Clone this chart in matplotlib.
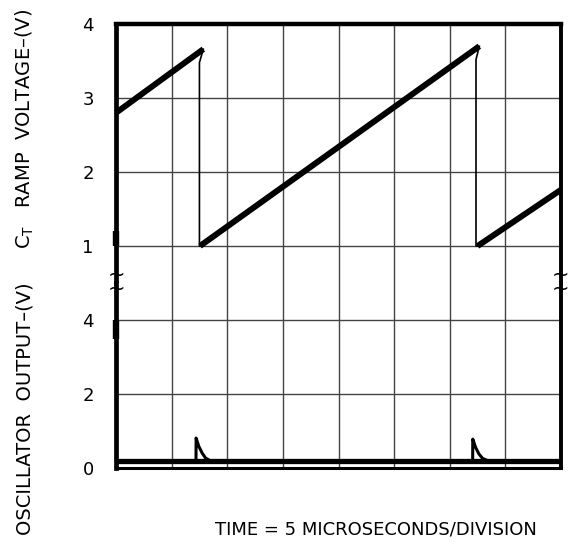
import matplotlib
matplotlib.use("Agg")
import matplotlib.pyplot as plt
import numpy as np

# ---- data (time in microseconds, 5 us / division) ----
x_ticks = [0, 5, 10, 15, 20, 25, 30, 35, 40]

# C_T ramp voltage: thick rising ramps
ramp1_t = [0.0, 7.85]
ramp1_v = [2.80, 3.66]
ramp2_t = [7.55, 32.66]
ramp2_v = [1.00, 3.70]
ramp3_t = [32.50, 40.0]
ramp3_v = [1.00, 1.76]
# thin discharge edges
fall1_t = [7.85, 7.50, 7.50, 7.55]
fall1_v = [3.66, 3.48, 1.00, 1.00]
fall2_t = [32.66, 32.36, 32.36, 32.50]
fall2_v = [3.70, 3.52, 1.00, 1.00]
ramp_yticks = [1, 2, 3, 4]
ramp_ticklabels = ["1", "2", "3", "4"]

# oscillator output
osc_base_t = [0.0, 40.0]
osc_base_v = [0.20, 0.20]
spike1_t = [7.19, 7.20, 7.45, 7.75, 8.05, 8.45]
spike1_v = [0.20, 0.81, 0.58, 0.40, 0.27, 0.20]
spike2_t = [32.06, 32.07, 32.32, 32.62, 32.95, 33.40]
spike2_v = [0.20, 0.78, 0.56, 0.38, 0.26, 0.20]
osc_yticks = [0, 2, 4]
osc_ticklabels = ["0", "2", "4"]

# trace remnants on left edge
rem_up_v = [1.0, 1.2]
rem_lo_v = [3.5, 4.0]

FONT = "DejaVu Sans"
plt.rcParams["font.family"] = [FONT]

fig = plt.figure(figsize=(5.71, 5.48), dpi=100)
L, R = 116 / 571, 561 / 571
top = 1 - 24 / 548
brk = 1 - 283 / 548
bot = 1 - 468 / 548
ax1 = fig.add_axes([L, brk, R - L, top - brk])
ax2 = fig.add_axes([L, bot, R - L, brk - bot])

grid_kw = dict(color="#444444", linewidth=1.0)
for ax in (ax1, ax2):
    ax.set_xlim(0, 40)
    ax.set_xticks(x_ticks)
    ax.set_xticklabels([])
    ax.tick_params(length=0, labelsize=13, pad=16)
    ax.grid(True, **grid_kw)
    ax.set_axisbelow(True)
    for s in ax.spines.values():
        s.set_color("black")

ax1.set_ylim(0.5, 4.0)
ax1.set_yticks(ramp_yticks)
ax1.set_yticklabels(ramp_ticklabels)
ax1.spines["bottom"].set_visible(False)
ax1.spines["top"].set_linewidth(3.2)
ax1.spines["left"].set_linewidth(3.4)
ax1.spines["right"].set_linewidth(2.8)

ax2.set_ylim(0, 5.0)
ax2.set_yticks(osc_yticks)
ax2.set_yticklabels(osc_ticklabels)
ax2.spines["top"].set_visible(False)
ax2.spines["bottom"].set_linewidth(2.2)
ax2.spines["left"].set_linewidth(3.4)
ax2.spines["right"].set_linewidth(2.8)

lw_thick = 4.3
for t, v in ((ramp1_t, ramp1_v), (ramp2_t, ramp2_v), (ramp3_t, ramp3_v)):
    ax1.plot(t, v, color="black", lw=lw_thick, solid_capstyle="butt", clip_on=False)
for t, v in ((fall1_t, fall1_v), (fall2_t, fall2_v)):
    ax1.plot(t, v, color="black", lw=1.2, clip_on=False)
ax1.plot([0, 0], rem_up_v, color="black", lw=4.6, solid_capstyle="butt", clip_on=False)

ax2.plot(osc_base_t, osc_base_v, color="black", lw=3.8, solid_capstyle="butt", clip_on=False)
for t, v in ((spike1_t, spike1_v), (spike2_t, spike2_v)):
    ax2.plot(t, v, color="black", lw=2.2, clip_on=False)
ax2.plot([0, 0], rem_lo_v, color="black", lw=4.6, solid_capstyle="butt", clip_on=False)

# break marks (two stacked tildes in one text)
for xf in (L, R):
    fig.text(xf, 1 - 282 / 548, "~\n~", ha="center", va="center", fontsize=15,
             linespacing=0.6, color="black")

fig.text(0.044, 1 - 128.5 / 548, "C$_{\\mathregular{T}}$   RAMP  VOLTAGE\u2013(V)",
         rotation=90, ha="center", va="center", fontsize=14)
fig.text(0.044, 1 - 408.5 / 548, "OSCILLATOR  OUTPUT\u2013(V)",
         rotation=90, ha="center", va="center", fontsize=14)
fig.text(375.5 / 571, 1 - 530 / 548, "TIME = 5 MICROSECONDS/DIVISION",
         ha="center", va="center", fontsize=13)

fig.savefig("out.png", dpi=100)
